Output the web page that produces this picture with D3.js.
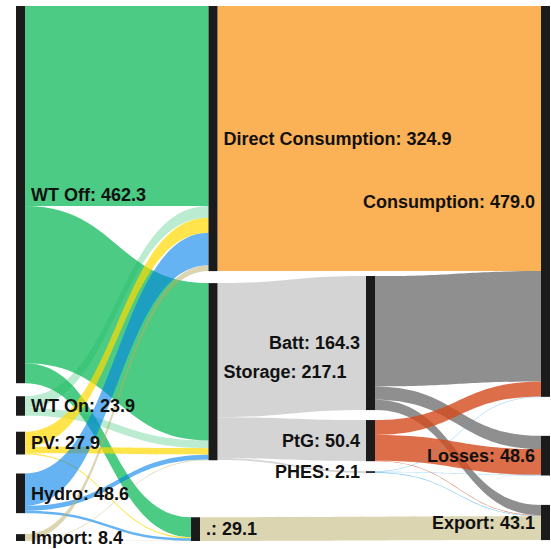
<!DOCTYPE html>
<html>
<head>
<meta charset="utf-8">
<script src="https://cdn.jsdelivr.net/npm/d3@7"></script>
<style>
body { margin: 0; background: #fff; }
.label { font-family: "Liberation Sans", Arial, sans-serif; font-weight: bold; font-size: 18px; fill: #111; }
</style>
</head>
<body>
<svg id="chart" width="551" height="549"></svg>
<script>
// nodes
var nodeNames = ["WT Off", "WT On", "PV", "Hydro", "Import",
	"Direct Consumption", "Storage", ".",
	"Batt", "PtG", "PHES",
	"Consumption", "Losses", "Export"];
var nodeValues = [462.3, 23.9, 27.9, 48.6, 8.4, 324.9, 217.1, 29.1, 164.3, 50.4, 2.1, 479.0, 48.6, 43.1];

// links
var linkSource = [0, 0, 0, 1, 1, 2, 2, 2, 3, 3, 3, 4, 4, 4, 5, 6, 6, 6, 7, 8, 8, 8, 9, 9, 9, 10, 10, 10];
var linkTarget = [5, 6, 7, 5, 6, 5, 6, 7, 5, 6, 7, 5, 6, 7, 11, 8, 9, 10, 13, 11, 12, 13, 11, 12, 13, 11, 12, 13];
var linkValues = [245.0, 192.9, 24.4, 14.5, 9.4, 18.5, 8.0, 1.4, 39.7, 6.0, 2.9, 7.2, 0.8, 0.4,
	324.9, 164.3, 50.4, 2.1, 29.1, 135.4, 16.2, 12.7, 18.2, 31.6, 0.6, 0.6, 0.8, 0.7];

// layout (column used for stacking, layer for horizontal place, gap above each node)
var nodeColumn = [0, 0, 0, 0, 0, 1, 1, 1, 2, 2, 2, 3, 3, 3];
var nodeLayer = [0, 0, 0, 0, 0, 1.1, 1.1, 1, 2, 2, 2, 3, 3, 3];
var nodeGap = [0, 13, 16, 19, 21, 0, 12, 57, 270, 10, 10, 0, 39, 29.4];

// link colour by source node
var linkColor = ["rgba(30,190,100,0.8)", "rgba(30,190,100,0.3)", "rgba(255,216,0,0.7)",
	"rgba(0,128,235,0.6)", "rgba(185,171,101,0.5)", "rgba(250,157,42,0.8)",
	"rgba(160,160,160,0.45)", "rgba(185,171,101,0.5)", "rgba(95,95,95,0.7)",
	"rgba(212,74,29,0.8)", "rgba(60,170,230,0.6)"];

var top0 = 6, bottom0 = 541, nodeWidth = 9;

var svg = d3.select("#chart");

var x = d3.scaleLinear().domain([0, 3]).range([16, 541]);

// value -> pixel height, fitted on the first column
var col0Total = d3.sum(nodeValues.filter((v, i) => nodeColumn[i] == 0));
var col0Gaps = d3.sum(nodeGap.filter((v, i) => nodeColumn[i] == 0));
var ky = d3.scaleLinear().domain([0, col0Total]).range([0, bottom0 - top0 - col0Gaps]);

var nodes = nodeNames.map(function (name, i) {
	return { name: name, value: nodeValues[i], col: nodeColumn[i], x0: x(nodeLayer[i]), x1: x(nodeLayer[i]) + nodeWidth, out: [], inc: [] };
});

var cursor = {};
nodes.forEach(function (n, i) {
	var c = cursor[n.col] == undefined ? top0 : cursor[n.col];
	n.y0 = c + nodeGap[i];
	n.y1 = n.y0 + ky(n.value);
	cursor[n.col] = n.y1;
});

var links = linkSource.map(function (s, i) {
	var l = { source: nodes[s], target: nodes[linkTarget[i]], value: linkValues[i], color: linkColor[s], w: ky(linkValues[i]) };
	nodes[s].out.push(l);
	nodes[linkTarget[i]].inc.push(l);
	return l;
});

nodes.forEach(function (n) {
	var y = n.y0;
	n.out.sort((a, b) => a.target.y0 - b.target.y0).forEach(function (l) {
		l.sy0 = y; l.sy1 = y + l.w; y += l.w;
	});
	y = n.y0;
	n.inc.sort((a, b) => a.source.y0 - b.source.y0).forEach(function (l) {
		l.ty0 = y; l.ty1 = y + l.w; y += l.w;
	});
});

function ribbon(l) {
	var x0 = l.source.x1, x1 = l.target.x0, xm = (x0 + x1) / 2;
	return "M" + x0 + "," + l.sy0 +
		"C" + xm + "," + l.sy0 + " " + xm + "," + l.ty0 + " " + x1 + "," + l.ty0 +
		"L" + x1 + "," + l.ty1 +
		"C" + xm + "," + l.ty1 + " " + xm + "," + l.sy1 + " " + x0 + "," + l.sy1 + "Z";
}

svg.append("g")
	.selectAll("path")
	.data(links)
	.enter()
	.append("path")
	.attr("d", ribbon)
	.attr("fill", d => d.color);

svg.append("g")
	.selectAll("rect")
	.data(nodes)
	.enter()
	.append("rect")
	.attr("x", d => d.x0)
	.attr("y", d => d.y0)
	.attr("width", nodeWidth)
	.attr("height", d => Math.max(1, d.y1 - d.y0))
	.attr("fill", "#1b1b1b");

svg.append("g")
	.selectAll("text")
	.data(nodes)
	.enter()
	.append("text")
	.attr("class", "label")
	.attr("x", d => d.col < 2 ? d.x1 + 6 : d.x0 - 6)
	.attr("y", d => (d.y0 + d.y1) / 2)
	.attr("dy", "0.35em")
	.attr("text-anchor", d => d.col < 2 ? "start" : "end")
	.text(d => d.name + ": " + d.value.toFixed(1));
</script>
</body>
</html>
